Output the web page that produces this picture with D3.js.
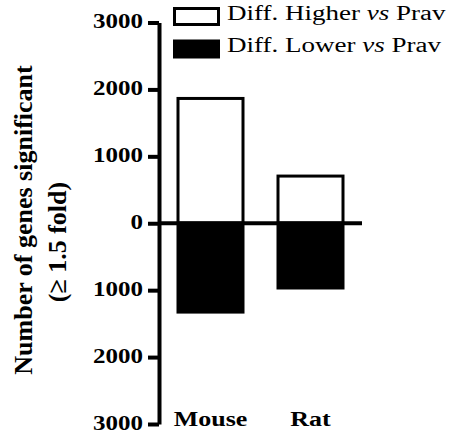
<!DOCTYPE html>
<html>
  <script src='https://d3js.org/d3.v7.min.js'></script>
  <body style="margin:0" onload='init()'>
<script>
      // ---------------------------
      // DATA
      // ---------------------------
      var species = ["Mouse", "Rat"];
      var higherCounts = [1865, 705];
      var lowerCounts = [1350, 990];
      var tickValues = [3000, 2000, 1000, 0, -1000, -2000, -3000];
      var legendLabels = ["Higher", "Lower"];

      function init() {
        // ---------------------------
        // CONSTANTS
        // ---------------------------
        var canvasWidth = 451;
        var canvasHeight = 441;
        var myFont = "Liberation Serif, Times New Roman, Times, serif";
        var lineW = 4;

        var svg = d3.select("body")
          .append("svg")
          .attr("id", "chart")
          .attr("width", canvasWidth)
          .attr("height", canvasHeight)
          .style("background", "white")
          .style("font-family", myFont);

        // scales
        var x_scale = d3.scaleBand().domain(species).range([160.5, 360.5])
          .paddingInner(0.32).paddingOuter(0.16);
        var y_scale = d3.scaleLinear().domain([3000, -3000]).range([22.5, 424]);

        // higher bars (white, outlined)
        svg.append("g")
          .selectAll("rect")
          .data(higherCounts)
          .enter()
          .append("rect")
          .attr("x", function(d, i) { return x_scale(species[i]) + 1.5; })
          .attr("y", function(d) { return y_scale(d); })
          .attr("width", x_scale.bandwidth() - 3)
          .attr("height", function(d) { return y_scale(0) - y_scale(d); })
          .style("fill", "white")
          .style("stroke", "black")
          .style("stroke-width", 3);

        // lower bars (black)
        svg.append("g")
          .selectAll("rect")
          .data(lowerCounts)
          .enter()
          .append("rect")
          .attr("x", function(d, i) { return x_scale(species[i]) + 1.5; })
          .attr("y", y_scale(0))
          .attr("width", x_scale.bandwidth() - 3)
          .attr("height", function(d) { return y_scale(-d) - y_scale(0) - 1.5; })
          .style("fill", "black")
          .style("stroke", "black")
          .style("stroke-width", 3);

        // zero line
        svg.append("line")
          .attr("x1", 159)
          .attr("x2", 362)
          .attr("y1", y_scale(0))
          .attr("y2", y_scale(0))
          .style("stroke", "black")
          .style("stroke-width", lineW);

        // y-axis
        var yAxis = svg.append("g")
          .attr("transform", "translate(159,0)")
          .call(d3.axisLeft(y_scale)
                .tickValues(tickValues)
                .tickFormat(function(d) { return Math.abs(d); })
                .tickSize(11)
                .tickSizeOuter(0)
                .tickPadding(5));
        yAxis.attr("font-family", null);
        yAxis.select(".domain").style("stroke-width", lineW);
        yAxis.selectAll(".tick line").style("stroke-width", lineW);
        yAxis.selectAll(".tick text")
          .attr("dy", null)
          .attr("y", 0)
          .attr("transform", "translate(0,5) scale(1,0.82)")
          .style("font-family", myFont)
          .style("font-weight", "bold")
          .style("font-size", "25px")
          .attr("fill", "black");

        // category labels
        svg.append("g")
          .selectAll("text")
          .data(species)
          .enter()
          .append("text")
          .attr("text-anchor", "middle")
          .attr("transform", function(d) {
            return "translate(" + (x_scale(d) + x_scale.bandwidth() / 2) + ",425.5) scale(1,0.8)";
          })
          .style("font-weight", "bold")
          .style("font-size", "26px")
          .text(function(d) { return d; });

        // y-axis title
        svg.append("text")
          .attr("text-anchor", "middle")
          .attr("transform", "translate(32,220) rotate(-90)")
          .style("font-weight", "bold")
          .style("font-size", "26px")
          .text("Number of genes significant");

        svg.append("text")
          .attr("text-anchor", "middle")
          .attr("transform", "translate(66,242) rotate(-90)")
          .style("font-weight", "bold")
          .style("font-size", "26px")
          .text("(\u2265 1.5 fold)");

        // legend
        var legend = svg.append("g")
          .selectAll("g")
          .data(legendLabels)
          .enter()
          .append("g")
          .attr("transform", function(d, i) { return "translate(0," + (i * 32.5) + ")"; });

        legend.append("rect")
          .attr("x", 174.5)
          .attr("y", 8.5)
          .attr("width", 44)
          .attr("height", 16)
          .style("fill", function(d, i) { return i === 0 ? "white" : "black"; })
          .style("stroke", "black")
          .style("stroke-width", 3);

        var legendText = legend.append("text")
          .attr("transform", "translate(227,19.5) scale(1,0.78)")
          .style("font-size", "27px");
        legendText.append("tspan").text(function(d) { return "Diff. " + d + " "; });
        legendText.append("tspan").style("font-style", "italic").text("vs");
        legendText.append("tspan").text(" Prav");
      }
    </script>
  </body>
</html>
